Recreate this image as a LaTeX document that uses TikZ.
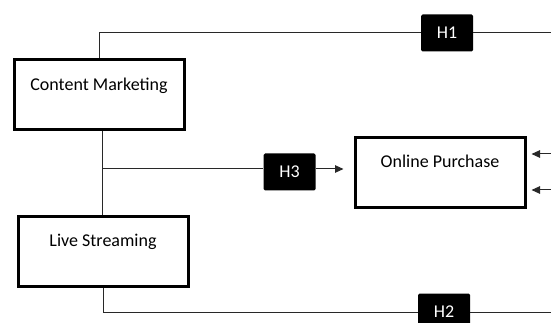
\documentclass[tikz,border=0pt]{standalone}
\usepackage{fontspec}
\setmainfont{Carlito}
\usetikzlibrary{arrows.meta,calc}
\definecolor{lnkgray}{RGB}{40,40,40}

\begin{document}
\begin{tikzpicture}[
    x=1pt, y=-1pt,
    >={Triangle[length=8.5pt,width=7.5pt]},
    tag/.style={font=\fontsize{18}{22}\selectfont},
    var/.style={tag, draw=black, line width=3pt, fill=white, align=center,
      minimum width=170pt, minimum height=70pt, inner sep=0pt},
    hyp/.style={tag, fill=black, text=white, rounded corners=1.5pt,
      minimum width=52pt, minimum height=37pt, inner sep=0pt},
    lnk/.style={draw=lnkgray, line width=1pt},
  ]

  \path[use as bounding box, clip] (0,0) rectangle (551,323);

  % variables
  \node[var] (cm) at (99,95) {Content Marketing\\\mbox{}};
  \node[var] (ls) at (103,251.5) {Live Streaming\\\mbox{}};
  \node[var] (op) at (440,172.5) {Online Purchase\\\mbox{}};

  % hypotheses
  \node[hyp] (h1) at (447,33) {H1};
  \node[hyp] (h3) at (289.5,172) {H3};
  \node[hyp] (h2) at (444,312) {H2};

  % free ends
  \coordinate (j) at (102,169);
  \coordinate (e1) at (551,33);
  \coordinate (e2) at (551,312);
  \coordinate (r1) at (551,154);
  \coordinate (r2) at (551,190);

  % H1 path
  \draw[lnk] (cm.north) |- (h1.west);
  \draw[lnk] (h1.east) -- (e1);
  % H2 path
  \draw[lnk] (ls.south) |- (h2.west);
  \draw[lnk] (h2.east) -- (e2);
  % H3 path
  \draw[lnk] (cm.south -| j) -- (ls.north -| j);
  \draw[lnk] (j) -- (j -| h3.west);
  \draw[lnk, ->, shorten >=10pt] (h3.east |- j) -- (op.west |- j);
  \draw[lnk, ->, shorten >=5pt] (r1) -- (op.east |- r1);
  \draw[lnk, ->, shorten >=5pt] (r2) -- (op.east |- r2);

\end{tikzpicture}
\end{document}
